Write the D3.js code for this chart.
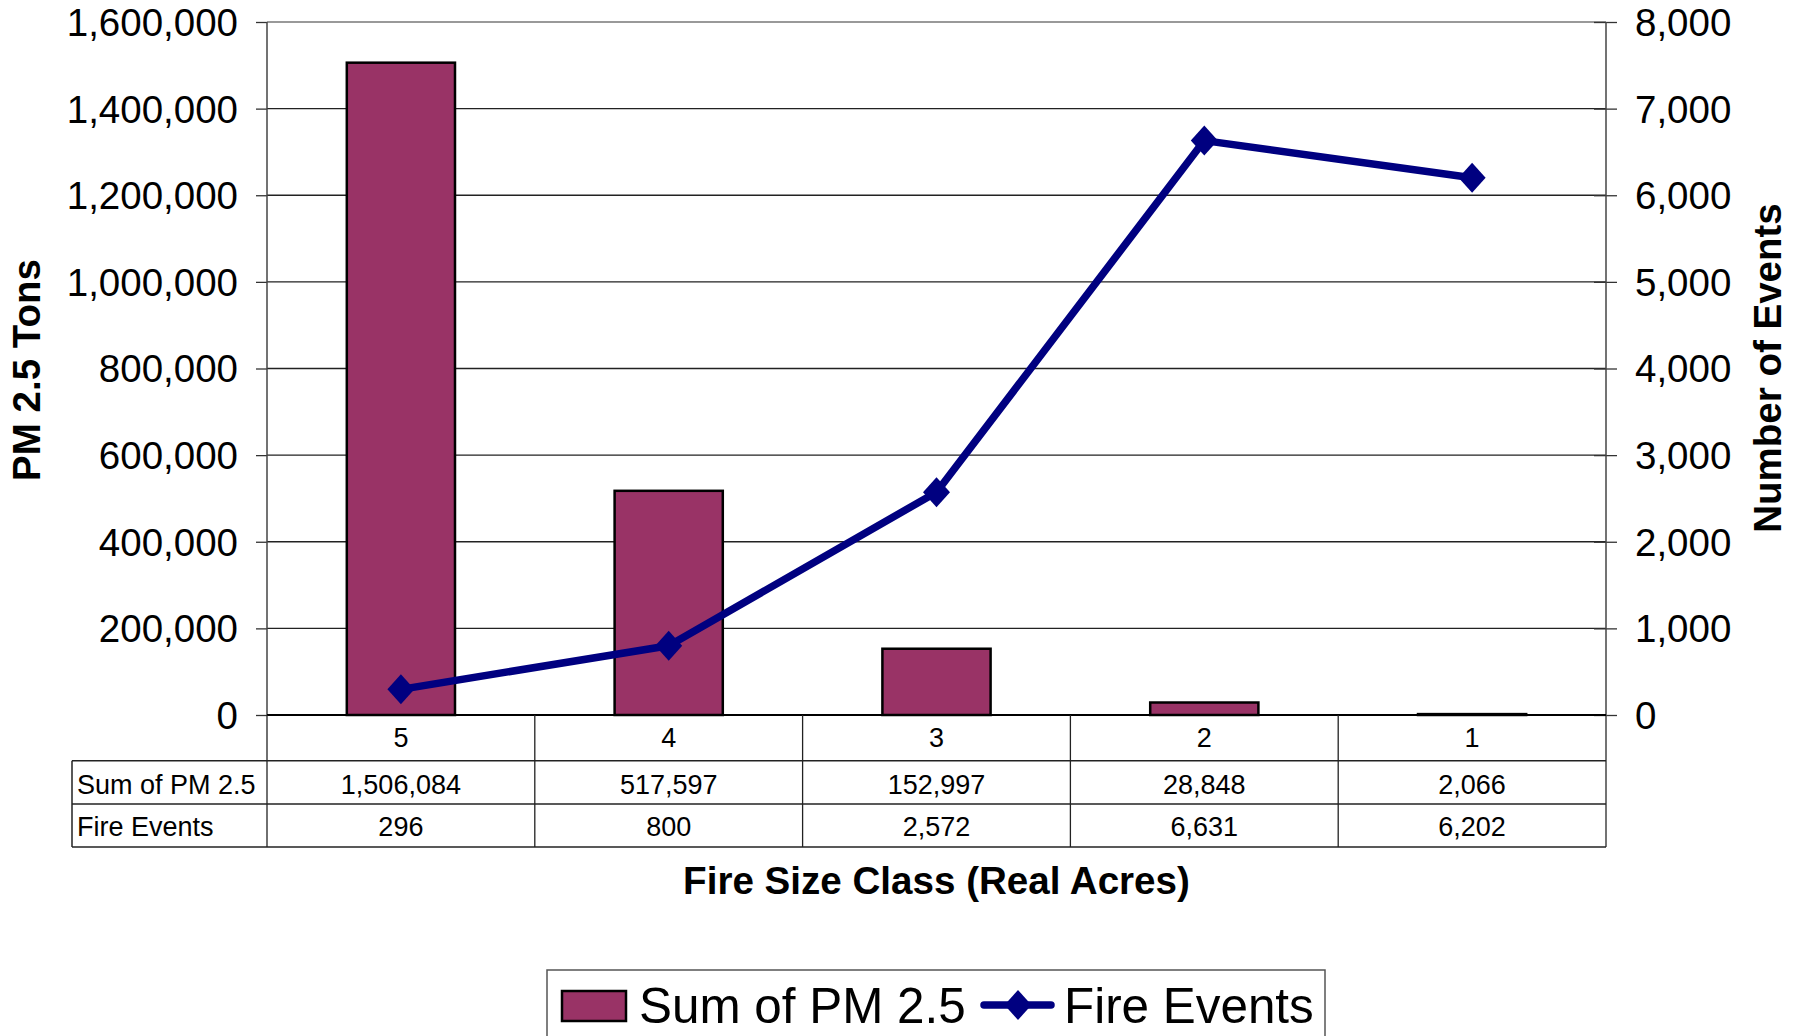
<!DOCTYPE html>
<html>
<head>
<meta charset="utf-8">
<script src="https://cdn.jsdelivr.net/npm/d3@7"></script>
<style>
  body { margin: 0; background: #fff; }
  text { font-family: "Liberation Sans", Arial, sans-serif; fill: #000; }
</style>
</head>
<body>
<script>
const classes = ["5", "4", "3", "2", "1"];
const pmTons = [1506084, 517597, 152997, 28848, 2066];
const fireEvents = [296, 800, 2572, 6631, 6202];
const pmTicks = [0, 200000, 400000, 600000, 800000, 1000000, 1200000, 1400000, 1600000];
const eventTicks = [0, 1000, 2000, 3000, 4000, 5000, 6000, 7000, 8000];

const width = 1799, height = 1036;
const plotLeft = 267, plotRight = 1606, plotTop = 22, plotBottom = 715;
const barColor = "#993366", lineColor = "#000080";

const svg = d3.select("body").append("svg")
  .attr("xmlns", "http://www.w3.org/2000/svg")
  .attr("width", width)
  .attr("height", height);

const cell = d3.scaleBand().domain(classes).range([plotLeft, plotRight]).padding(0);
const x = d3.scaleBand().domain(classes).range([plotLeft, plotRight])
  .paddingInner(0.596).paddingOuter(0.298);
const yPm = d3.scaleLinear().domain([0, 1600000]).range([plotBottom, plotTop]);
const yEv = d3.scaleLinear().domain([0, 8000]).range([plotBottom, plotTop]);
const fmt = d3.format(",");

// gridlines
svg.append("g")
  .selectAll("line")
  .data(pmTicks)
  .join("line")
  .attr("x1", plotLeft).attr("x2", plotRight)
  .attr("y1", d => yPm(d)).attr("y2", d => yPm(d))
  .style("stroke", (d, i) => i === pmTicks.length - 1 ? "#777" : "#222")
  .style("stroke-width", 1.3);

// left axis
const gl = svg.append("g")
  .attr("transform", `translate(${plotLeft},0)`)
  .call(d3.axisLeft(yPm).tickValues(pmTicks).tickFormat(fmt).tickSize(11).tickPadding(18));
gl.select(".domain").remove();
gl.selectAll(".tick line").style("stroke", "#333").style("stroke-width", 1.3);
gl.selectAll(".tick text").style("font-size", "38.5px").attr("dy", "0.35em")
  .style("font-family", '"Liberation Sans", Arial, sans-serif');

// right axis
const gr = svg.append("g")
  .attr("transform", `translate(${plotRight},0)`)
  .call(d3.axisRight(yEv).tickValues(eventTicks).tickFormat(fmt).tickSize(11).tickPadding(18));
gr.select(".domain").remove();
gr.selectAll(".tick line").attr("x1", -12).style("stroke", "#333").style("stroke-width", 1.3);
gr.selectAll(".tick text").style("font-size", "38.5px").attr("dy", "0.35em")
  .style("font-family", '"Liberation Sans", Arial, sans-serif');

// axis lines
svg.append("line").attr("x1", plotLeft).attr("x2", plotLeft).attr("y1", plotTop).attr("y2", plotBottom)
  .style("stroke", "#444").style("stroke-width", 1.5);
svg.append("line").attr("x1", plotRight).attr("x2", plotRight).attr("y1", plotTop).attr("y2", 847)
  .style("stroke", "#444").style("stroke-width", 1.5);

// bars
svg.append("g")
  .selectAll("rect")
  .data(classes)
  .join("rect")
  .attr("x", d => x(d))
  .attr("width", x.bandwidth())
  .attr("y", (d, i) => yPm(pmTons[i]))
  .attr("height", (d, i) => plotBottom - yPm(pmTons[i]))
  .style("fill", barColor)
  .style("stroke", "#000")
  .style("stroke-width", 2.5);

// category axis line
svg.append("line").attr("x1", plotLeft).attr("x2", plotRight).attr("y1", plotBottom).attr("y2", plotBottom)
  .style("stroke", "#000").style("stroke-width", 2);

// data table
const rowTops = [715, 760.7, 804, 847];
const tableLeft = 72;
const table = svg.append("g");
table.selectAll("line.div")
  .data(classes)
  .join("line")
  .attr("class", "div")
  .attr("x1", d => cell(d)).attr("x2", d => cell(d))
  .attr("y1", rowTops[0]).attr("y2", rowTops[3])
  .style("stroke", "#222").style("stroke-width", 1.3);
[rowTops[1], rowTops[2], rowTops[3]].forEach(yy => {
  table.append("line").attr("x1", tableLeft).attr("x2", plotRight).attr("y1", yy).attr("y2", yy)
    .style("stroke", "#222").style("stroke-width", 1.5);
});
table.append("line").attr("x1", tableLeft).attr("x2", tableLeft).attr("y1", rowTops[1]).attr("y2", rowTops[3])
  .style("stroke", "#222").style("stroke-width", 1.5);

const rows = [
  { name: null, values: classes, base: 747 },
  { name: "Sum of PM 2.5", values: pmTons.map(fmt), base: 794 },
  { name: "Fire Events", values: fireEvents.map(fmt), base: 836 }
];
rows.forEach(r => {
  if (r.name) {
    table.append("text").attr("x", tableLeft + 5).attr("y", r.base)
      .style("font-size", "27px").text(r.name);
  }
  table.selectAll(null)
    .data(r.values)
    .join("text")
    .attr("x", (d, i) => cell(classes[i]) + cell.bandwidth() / 2)
    .attr("y", r.base)
    .attr("text-anchor", "middle")
    .style("font-size", "27px")
    .text(d => d);
});

// line series
const diamond = "M0,-15L13.5,0L0,15L-13.5,0Z";
const line = d3.line()
  .x((d, i) => x(classes[i]) + x.bandwidth() / 2)
  .y(d => yEv(d));
svg.append("path")
  .datum(fireEvents)
  .attr("d", line)
  .style("fill", "none")
  .style("stroke", lineColor)
  .style("stroke-width", 7.5)
  .style("stroke-linejoin", "round");
svg.append("g")
  .selectAll("path")
  .data(fireEvents)
  .join("path")
  .attr("transform", (d, i) => `translate(${x(classes[i]) + x.bandwidth() / 2},${yEv(d)})`)
  .attr("d", diamond)
  .style("fill", lineColor);

// axis titles
svg.append("text")
  .attr("transform", `translate(40,370) rotate(-90)`)
  .attr("text-anchor", "middle")
  .style("font-size", "38.5px").style("font-weight", "bold")
  .text("PM 2.5 Tons");
svg.append("text")
  .attr("transform", `translate(1781,368) rotate(-90)`)
  .attr("text-anchor", "middle")
  .style("font-size", "38.5px").style("font-weight", "bold")
  .text("Number of Events");
svg.append("text")
  .attr("x", (plotLeft + plotRight) / 2).attr("y", 894)
  .attr("text-anchor", "middle")
  .style("font-size", "38.6px").style("font-weight", "bold")
  .text("Fire Size Class (Real Acres)");

// legend
const lg = svg.append("g");
lg.append("rect").attr("x", 547).attr("y", 970).attr("width", 778).attr("height", 90)
  .style("fill", "#fff").style("stroke", "#555").style("stroke-width", 1.5);
lg.append("rect").attr("x", 562).attr("y", 991).attr("width", 64).attr("height", 30)
  .style("fill", barColor).style("stroke", "#000").style("stroke-width", 2.5);
lg.append("text").attr("x", 639).attr("y", 1023).style("font-size", "49.4px").text("Sum of PM 2.5");
lg.append("line").attr("x1", 984).attr("x2", 1051).attr("y1", 1005).attr("y2", 1005)
  .style("stroke", lineColor).style("stroke-width", 7.5).style("stroke-linecap", "round");
lg.append("path").attr("transform", "translate(1018,1005)").attr("d", diamond).style("fill", lineColor);
lg.append("text").attr("x", 1064).attr("y", 1023).style("font-size", "49.4px").text("Fire Events");
</script>
</body>
</html>
